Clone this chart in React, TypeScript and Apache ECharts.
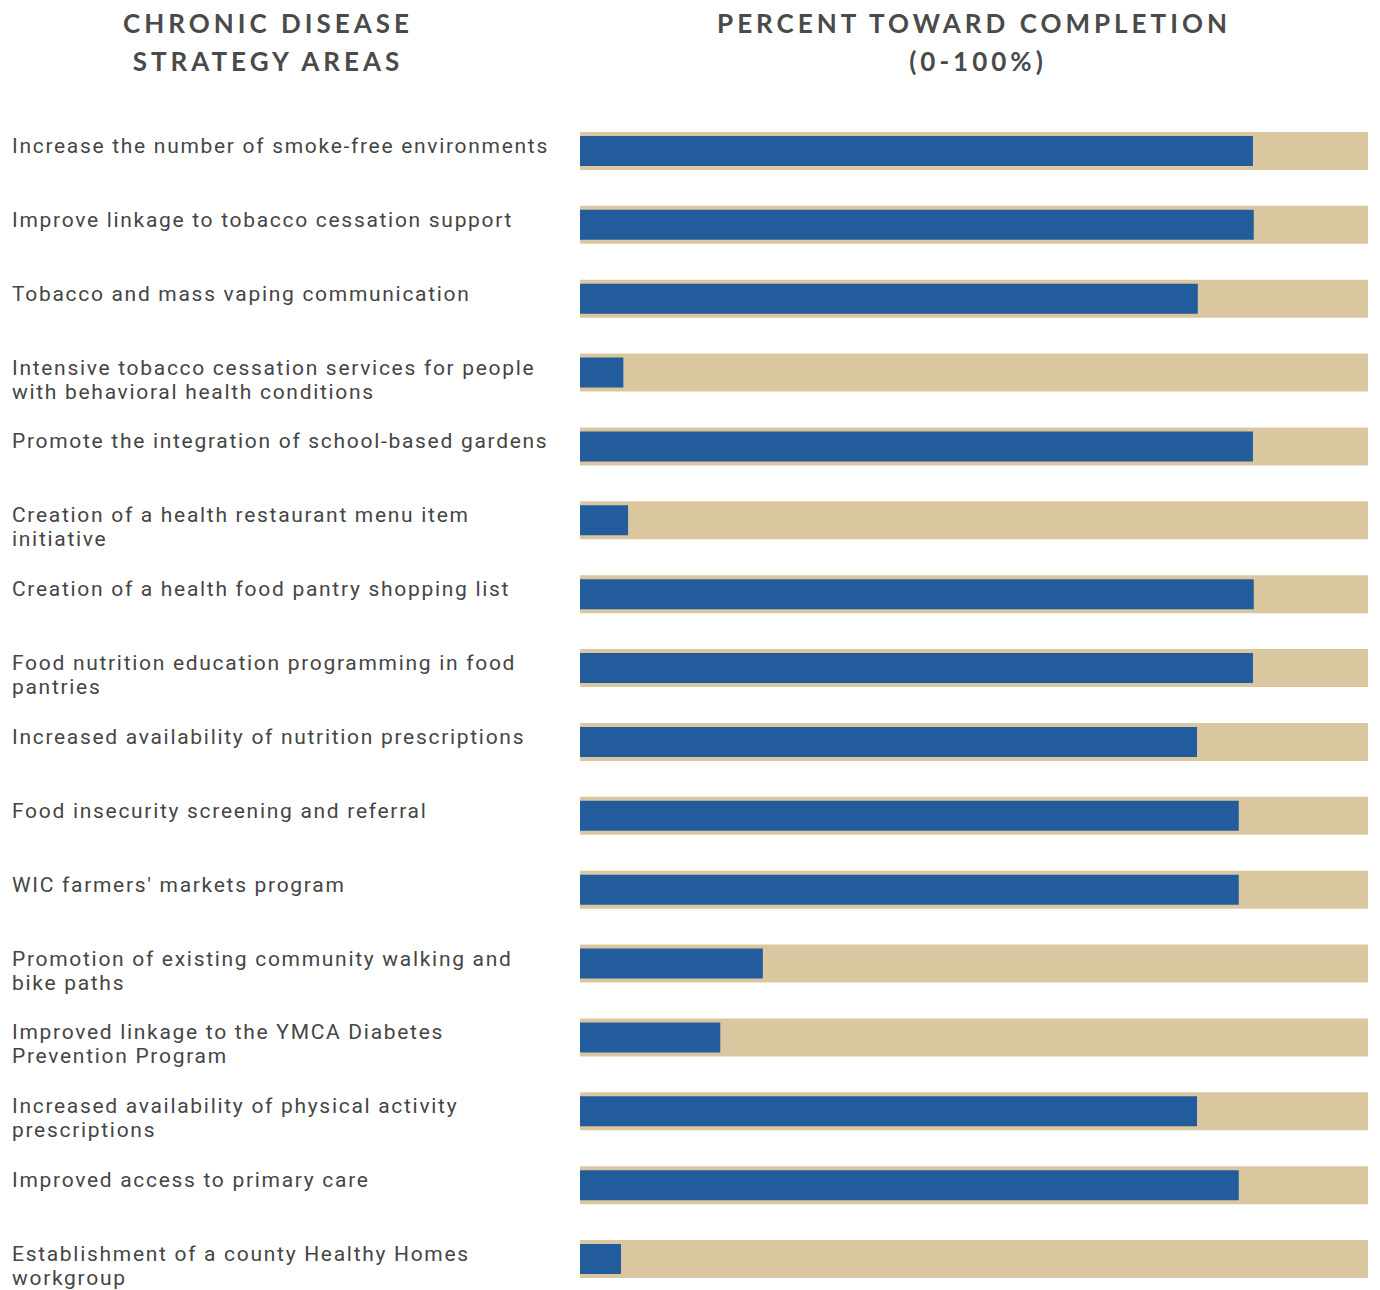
import React, { useEffect, useRef } from "react";
import * as echarts from "echarts";

const categories = [
  "Increase the number of smoke-free environments",
  "Improve linkage to tobacco cessation support",
  "Tobacco and mass vaping communication",
  "Intensive tobacco cessation services for people\nwith behavioral health conditions",
  "Promote the integration of school-based gardens",
  "Creation of a health restaurant menu item\ninitiative",
  "Creation of a health food pantry shopping list",
  "Food nutrition education programming in food\npantries",
  "Increased availability of nutrition prescriptions",
  "Food insecurity screening and referral",
  "WIC farmers' markets program",
  "Promotion of existing community walking and\nbike paths",
  "Improved linkage to the YMCA Diabetes\nPrevention Program",
  "Increased availability of physical activity\nprescriptions",
  "Improved access to primary care",
  "Establishment of a county Healthy Homes\nworkgroup",
];

const completion = [85.4, 85.5, 78.4, 5.5, 85.4, 6.1, 85.5, 85.4, 78.3, 83.6, 83.6, 23.2, 17.8, 78.3, 83.6, 5.2];

const track = [100, 100, 100, 100, 100, 100, 100, 100, 100, 100, 100, 100, 100, 100, 100, 100];

const leftHeader = ["CHRONIC DISEASE", "STRATEGY AREAS"];
const rightHeader = ["PERCENT TOWARD COMPLETION", "(0-100%)"];

const BLUE = "#225c9c";
const BEIGE = "#dbc79f";
const TEXT = "#454545";
const LABEL_FONT = "Roboto, 'Liberation Sans', sans-serif";

export default function App() {
  const ref = useRef<HTMLDivElement>(null);
  useEffect(() => {
    if (!ref.current) return;
    const chart = echarts.init(ref.current, undefined, { renderer: "svg" });
    const gridTop = 114;
    const gridH = 1182;
    chart.setOption({
      animation: false,
      backgroundColor: "#ffffff",
      grid: [
        { left: 580, width: 788, top: gridTop, height: gridH, containLabel: false },
        { left: 580, width: 788, top: gridTop - 17, height: gridH, containLabel: false },
      ],
      xAxis: [
        { type: "value", gridIndex: 0, min: 0, max: 100, show: false },
        { type: "value", gridIndex: 1, min: 0, max: 100, show: false },
      ],
      yAxis: [
        { type: "category", gridIndex: 0, data: categories, inverse: true, show: false },
        { type: "category", gridIndex: 0, data: categories, inverse: true, show: false },
        {
          type: "category",
          gridIndex: 1,
          data: categories,
          inverse: true,
          axisLine: { show: false },
          axisTick: { show: false },
          splitLine: { show: false },
          axisLabel: {
            show: true,
            margin: 568,
            align: "left",
            verticalAlign: "top",
            color: TEXT,
            fontFamily: LABEL_FONT,
            fontSize: 21,
            lineHeight: 24,
            interval: 0,
          },
        },
      ],
      series: [
        {
          type: "bar",
          xAxisIndex: 0,
          yAxisIndex: 0,
          data: track,
          barWidth: 38,
          itemStyle: { color: BEIGE },
          silent: true,
        },
        {
          type: "bar",
          xAxisIndex: 0,
          yAxisIndex: 1,
          data: completion,
          barWidth: 30,
          itemStyle: { color: BLUE },
          silent: true,
        },
      ],
      graphic: [
        ...leftHeader.map((t, i) => ({
          type: "text",
          x: 268,
          y: 23 + i * 38,
          style: {
            text: t,
            fill: "#4a4a4a",
            font: "bold 26px Lato",
            textAlign: "center",
            textVerticalAlign: "middle",
          },
        })),
        ...rightHeader.map((t, i) => ({
          type: "text",
          x: i === 0 ? 974 : 978,
          y: 23 + i * 38,
          style: {
            text: t,
            fill: "#4a4a4a",
            font: "bold 26px Lato",
            textAlign: "center",
            textVerticalAlign: "middle",
          },
        })),
      ],
    });
    return () => chart.dispose();
  }, []);
  return (
    <div style={{ position: "absolute", left: 0, top: 0, width: 1380, height: 1290, overflow: "hidden" }}>
      <style>{`#chart text { letter-spacing: 1.7px; } #chart text[style*="Lato"] { letter-spacing: 4px; }`}</style>
      <div id="chart" ref={ref} style={{ width: 1380, height: 1300 }} />
    </div>
  );
}
